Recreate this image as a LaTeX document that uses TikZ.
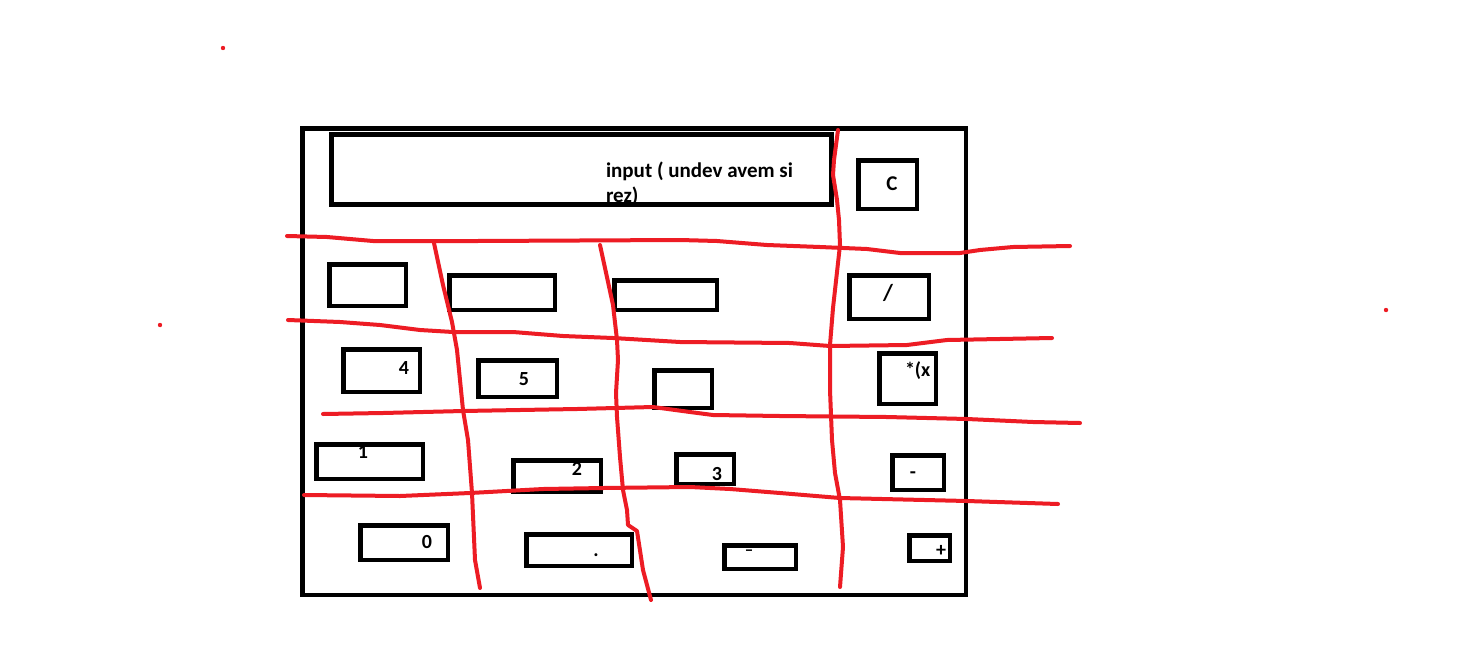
\documentclass[tikz,border=0pt]{standalone}
\usepackage{fontspec}
\setmainfont{Carlito}
\begin{document}
\begin{tikzpicture}[x=1pt, y=-1pt,
  keybox/.style={draw=black, line width=4.5pt, inner sep=0pt, outer sep=0pt, rectangle},
  keytxt/.style={inner sep=0pt, outer sep=0pt, font=\fontsize{20}{24}\selectfont\bfseries},
  disptxt/.style={inner sep=0pt, outer sep=0pt, anchor=base west, font=\fontsize{21}{25}\selectfont\bfseries},
  redline/.style={draw={rgb,255:red,237;green,28;blue,36}, line width=4pt, line join=round, line cap=round},
  reddot/.style={fill={rgb,255:red,237;green,28;blue,36}}
]
\fill[white] (0,0) rectangle (1461,659);
\useasboundingbox (0,0) rectangle (1461,659);

% calculator body
\node[keybox, minimum width=663.5pt, minimum height=466.5pt] (body) at (634,361.5) {};

% display: text first, the frame is drawn over its second line
\node[disptxt] (inp1) at (606,177) {input ( undev avem si};
\node[disptxt] (inp2) at (606,202) {rez)};
\node[draw=black, line width=5pt, inner sep=0pt, minimum width=500pt, minimum height=70pt] (display) at (581.5,169.5) {};

% right column
\node[keybox, minimum width=58.5pt, minimum height=48.5pt] (kC) at (887.5,184.5) {};
\node[keybox, minimum width=79.5pt, minimum height=43.5pt] (kdiv) at (889,297) {};
\node[keybox, minimum width=56.5pt, minimum height=50.5pt] (kmul) at (907.5,378.5) {};
\node[keybox, minimum width=51.5pt, minimum height=34.5pt] (ksub) at (918,472.5) {};
\node[keybox, minimum width=40.5pt, minimum height=25.5pt] (kadd) at (929.5,548) {};

% first row (empty keys)
\node[keybox, minimum width=76.5pt, minimum height=41.5pt] (ka) at (367.5,285) {};
\node[keybox, minimum width=105.5pt, minimum height=34.5pt] (kb) at (502,292.5) {};
\node[keybox, minimum width=102.5pt, minimum height=29.5pt] (kc) at (665.5,295) {};

% second row
\node[keybox, minimum width=76.5pt, minimum height=42.5pt] (k4) at (381.5,370.5) {};
\node[keybox, minimum width=78.5pt, minimum height=36.5pt] (k5) at (517.5,378.5) {};
\node[keybox, minimum width=57.5pt, minimum height=37.5pt] (k6) at (683,389) {};

% third row
\node[keybox, minimum width=106.5pt, minimum height=34.5pt] (k1) at (369.5,461.5) {};
\node[keybox, minimum width=87.5pt, minimum height=31.5pt] (k2) at (557,476) {};
\node[keybox, minimum width=57.5pt, minimum height=29.5pt] (k3) at (705,469) {};

% fourth row
\node[keybox, minimum width=87.5pt, minimum height=34.5pt] (k0) at (404,542.5) {};
\node[keybox, minimum width=105.5pt, minimum height=31.5pt] (kdot) at (579,550) {};
\node[keybox, minimum width=71.5pt, minimum height=23.5pt] (kneg) at (760,557) {};

% key labels
\node[keytxt, font=\fontsize{21}{24}\selectfont\bfseries] (tC) at (892,183.5) {C};
\node[keytxt, font=\fontsize{23}{26}\selectfont\bfseries] (tdiv) at (888,293) {/};
\node[keytxt, anchor=west] (tmul) at (905,371) {*(x};
\node[keytxt, anchor=base] (tsub) at (913,478) {-};
\node[keytxt] (tadd) at (941,551) {+};
\node[keytxt] (t4) at (404,368) {4};
\node[keytxt] (t5) at (524,379.5) {5};
\node[keytxt] (t1) at (363,452) {1};
\node[keytxt] (t2) at (577,469) {2};
\node[keytxt] (t3) at (717,474.5) {3};
\node[keytxt] (t0) at (427,542) {0};
\node[keytxt] (tdot) at (596,555) {.};
\node[keytxt, anchor=base, font=\fontsize{17}{20}\selectfont\bfseries] (tneg) at (749,555.5) {–};

% red grid, horizontal strokes
\draw[redline] (287,236) -- (327,237) -- (350,239) -- (373,241) -- (477,241) -- (680,240)
  -- (717,241) -- (767,245) -- (820,247) -- (867,249) -- (900,253) -- (960,253)
  -- (980,250) -- (1013,247) -- (1070,246);
\draw[redline] (288,320) -- (340,322) -- (380,325) -- (420,330) -- (453,332) -- (513,332)
  -- (563,336) -- (613,338) -- (680,342) -- (790,343) -- (830,346) -- (907,345)
  -- (947,340) -- (1052,338);
\draw[redline] (323,414) -- (383,413) -- (463,411) -- (577,409) -- (653,407) -- (690,412)
  -- (713,415) -- (780,416) -- (887,417) -- (967,419) -- (1033,422) -- (1080,423);
\draw[redline] (304,495) -- (400,496) -- (470,493) -- (543,489) -- (603,488) -- (690,487)
  -- (730,489) -- (780,493) -- (840,498) -- (967,501) -- (1058,504);

% red grid, vertical strokes
\draw[redline] (434,243) -- (443,285) -- (452,322) -- (457,350) -- (463,410) -- (468,440)
  -- (472,493) -- (475,560) -- (480,588);
\draw[redline] (600,245) -- (605,268) -- (613,305) -- (617,340) -- (618,360) -- (616,393)
  -- (617,417) -- (620,457) -- (623,490) -- (627,510) -- (628,525) -- (637,531)
  -- (643,570) -- (651,600);
\draw[redline] (838,130) -- (834,160) -- (833,175) -- (837,200) -- (839,220) -- (840,245)
  -- (837,272) -- (833,308) -- (830,345) -- (830,390) -- (832,440) -- (835,473)
  -- (840,500) -- (843,547) -- (840,587);

% stray dots
\fill[reddot] (223,48) circle (2.2);
\fill[reddot] (160,325) circle (2.2);
\fill[reddot] (1386,310) circle (2.2);
\end{tikzpicture}
\end{document}
